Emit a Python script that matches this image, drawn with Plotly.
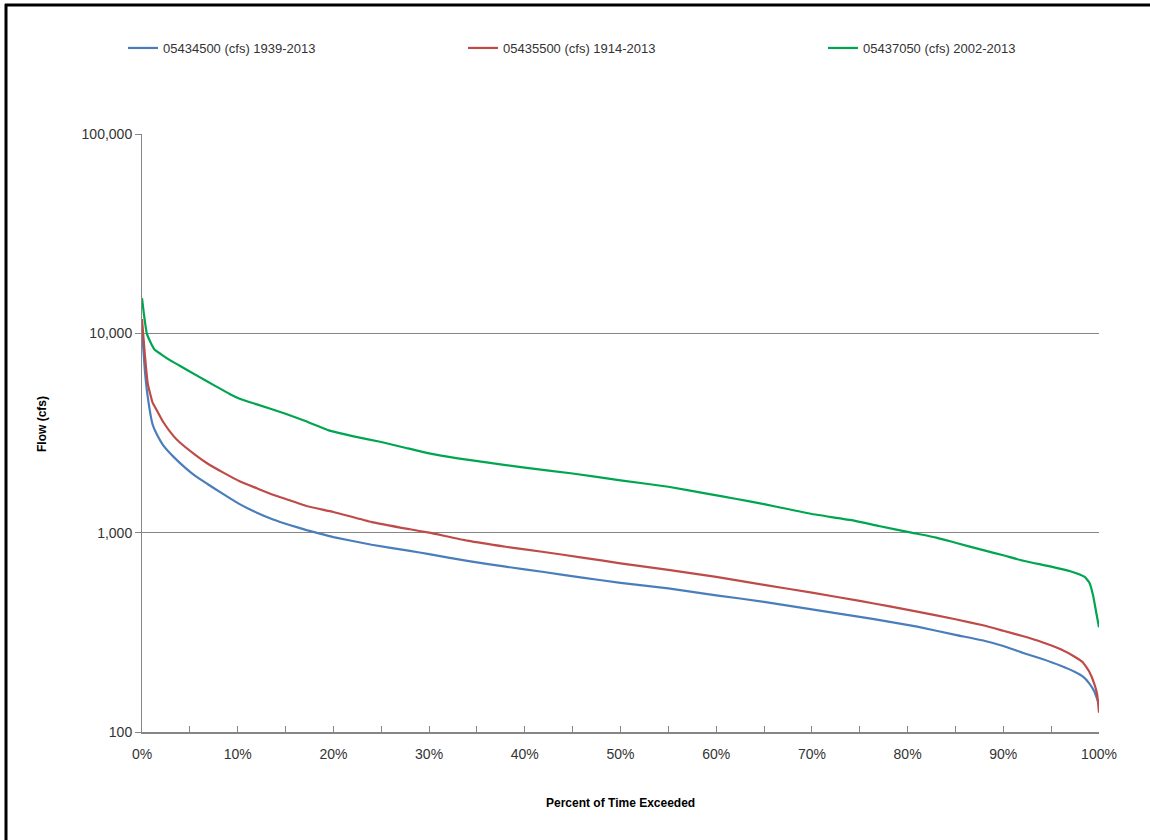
import plotly.graph_objects as go

# Percent of time exceeded (%) and flow (cfs)
pct_a = [0, 0.3, 0.6, 1.1, 1.5, 2.2, 3.3, 4.5, 5.6, 6.8, 8.5, 10.2, 12, 13.7, 15.5, 17.2, 18.2, 20,
         24, 28, 30, 34, 38, 42, 46, 50, 55, 60, 65, 70, 75, 78, 81, 85, 88, 90, 92, 94, 96,
         97.5, 98.3, 99, 99.5, 100]
flow_a = [10300, 6500, 4800, 3500, 3150, 2750, 2400, 2120, 1920, 1760, 1560, 1390, 1260, 1165,
          1090, 1030, 1000, 950, 870, 810, 780, 722, 675, 635, 595, 560, 525, 485, 450, 412,
          378, 358, 338, 307, 287, 270, 250, 233, 215, 200, 190, 175, 160, 138]

pct_b = [0, 0.3, 0.6, 1.1, 1.5, 2.2, 3.3, 3.9, 5.6, 6.8, 8.5, 10.2, 12, 13.7, 15.5, 17.2, 20,
         24, 28, 30, 34, 38, 42, 46, 50, 55, 60, 65, 70, 75, 78, 81, 85, 88, 90, 92, 94, 96,
         97.5, 98.3, 99, 99.5, 99.8, 100]
flow_b = [11800, 7800, 5600, 4500, 4150, 3600, 3050, 2850, 2450, 2230, 2000, 1810, 1670, 1550,
          1450, 1360, 1270, 1130, 1040, 1000, 912, 850, 800, 750, 702, 650, 600, 547, 500, 455,
          428, 402, 368, 342, 322, 303, 283, 260, 238, 224, 200, 175, 155, 125]

pct_c = [0, 0.2, 0.5, 0.9, 1.3, 2, 3, 3.9, 5.7, 7.5, 9.2, 10.2, 12, 15, 17, 19.6, 22, 25, 27.6,
         30, 33, 36, 40, 45, 50, 55, 59.3, 62, 65, 67.6, 70, 74.4, 77, 80.4, 83, 85, 88, 90, 92,
         95, 97, 98.5, 99, 99.4, 99.7, 100]
flow_c = [15000, 12500, 10000, 9000, 8300, 7850, 7300, 6900, 6150, 5500, 4950, 4700, 4400, 3950,
          3640, 3250, 3050, 2850, 2660, 2500, 2360, 2250, 2120, 1980, 1830, 1700, 1560, 1480,
          1390, 1310, 1240, 1150, 1080, 1000, 945, 890, 815, 770, 725, 675, 640, 600, 560, 480,
          400, 335]

names = ["05434500 (cfs) 1939-2013", "05435500 (cfs) 1914-2013", "05437050 (cfs) 2002-2013"]
colors = ["#4A7EBB", "#BE4B48", "#00A550"]

y_tickvals = [100, 1000, 10000, 100000]
y_ticktext = ["100", "1,000", "10,000", "100,000"]
x_tickvals = [0, 10, 20, 30, 40, 50, 60, 70, 80, 90, 100]
x_ticktext = [f"{v}%" for v in x_tickvals]

FONT = "Liberation Sans, Arial, sans-serif"

L, R, T, B = 142, 51, 134, 108
W, H = 1150, 840
pw, ph = W - L - R, H - T - B

def px_x(px):
    return (px - L) / pw

def px_y(py):
    return (H - B - py) / ph

legend_ids = ["legend", "legend2", "legend3"]
legend_px = [123, 463, 823]

fig = go.Figure()
for p, f, n, c, lg in zip([pct_a, pct_b, pct_c], [flow_a, flow_b, flow_c], names, colors, legend_ids):
    fig.add_trace(go.Scatter(x=p, y=f, mode="lines", name=n, legend=lg,
                             line=dict(color=c, width=2.2, shape="spline", smoothing=0.4)))

legend_common = dict(orientation="h", xanchor="left", yanchor="middle",
                     font=dict(family=FONT, size=13, color="#333333"),
                     bgcolor="rgba(0,0,0,0)", borderwidth=0)

layout_legends = {lg: dict(legend_common, x=px_x(xp), y=px_y(48))
                  for lg, xp in zip(legend_ids, legend_px)}

fig.update_layout(
    width=W, height=H,
    margin=dict(l=L, r=R, t=T, b=B),
    paper_bgcolor="white", plot_bgcolor="white",
    font=dict(family=FONT, size=13, color="#333333"),
    showlegend=True,
    **layout_legends,
    xaxis=dict(range=[0, 100], tickvals=x_tickvals, ticktext=x_ticktext,
               ticks="inside", ticklen=6, tickcolor="#868686",
               showline=True, linecolor="#868686", linewidth=1.5,
               showgrid=False, zeroline=False, ticklabelstandoff=8,
               minor=dict(dtick=5, tick0=0, ticks="inside", ticklen=6, tickcolor="#868686",
                          showgrid=False),
               tickfont=dict(size=14, color="#333333")),
    yaxis=dict(type="log", range=[2, 5], tickvals=y_tickvals, ticktext=y_ticktext,
               ticks="outside", ticklen=6, tickcolor="#868686",
               showline=True, linecolor="#868686", linewidth=1,
               showgrid=True, gridcolor="#868686", gridwidth=1, zeroline=False,
               tickfont=dict(size=14, color="#333333")),
    annotations=[
        dict(text="<b>Percent of Time Exceeded</b>", x=0.5, y=px_y(803), xref="paper", yref="paper",
             showarrow=False, font=dict(family=FONT, size=12, color="#000000"),
             xanchor="center", yanchor="middle"),
        dict(text="<b>Flow (cfs)</b>", x=px_x(42), y=px_y(424), xref="paper", yref="paper",
             showarrow=False, textangle=-90, font=dict(family=FONT, size=12, color="#000000"),
             xanchor="center", yanchor="middle"),
    ],
    shapes=[
        dict(type="line", xref="paper", yref="paper", x0=px_x(6), x1=px_x(6),
             y0=px_y(845), y1=px_y(4), line=dict(color="black", width=3)),
        dict(type="line", xref="paper", yref="paper", x0=px_x(5), x1=px_x(1155),
             y0=px_y(5), y1=px_y(5), line=dict(color="black", width=3)),
    ],
)

fig.write_html("out.html", config={"displayModeBar": False},
               post_script="document.body.style.margin='0px';document.body.style.overflow='hidden';")
